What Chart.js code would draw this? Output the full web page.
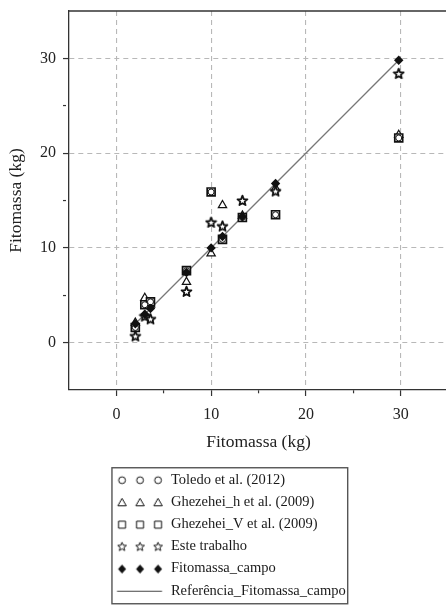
<!DOCTYPE html>
<html>
<head>
<meta charset="utf-8">
<script src="https://cdn.jsdelivr.net/npm/chart.js@4.4.0/dist/chart.umd.min.js"></script>
<style>
  html, body { margin: 0; padding: 0; background: #fff; overflow: hidden; }
</style>
</head>
<body>
<canvas id="chart" width="448" height="608"></canvas>
<script>
// ------------ DATA ------------

// field biomass (kg), shared x for every series
const fieldX = [2.0, 3.0, 3.6, 7.4, 10.0, 11.2, 13.3, 16.8, 29.8];

const toledoY = [1.6, 4.0, 4.3, 7.6, 15.9, 10.9, 13.2, 13.5, 21.6];
const ghezHY  = [2.1, 4.7, 4.0, 6.4, 9.4, 14.5, 13.4, 16.3, 21.9];
const ghezVY  = [1.6, 4.0, 4.3, 7.6, 15.9, 10.9, 13.2, 13.5, 21.6];
const esteY   = [0.7, 2.8, 2.5, 5.4, 12.7, 12.3, 15.0, 16.0, 28.4];
const campoY  = [2.0, 3.0, 3.6, 7.4, 10.0, 11.2, 13.3, 16.8, 29.8];

const refX = [2.0, 29.8];
const refY = [2.0, 29.8];

const labels = [
    'Toledo et al. (2012)',
    'Ghezehei_h et al. (2009)',
    'Ghezehei_V et al. (2009)',
    'Este trabalho',
    'Fitomassa_campo',
    'Referência_Fitomassa_campo'
];

const axisMin = -5;
const axisMax = 35;
const labelledTicks = [0, 10, 20, 30];

// ------------ HELPERS ------------

function pairs(xs, ys) {
    return xs.map(function(x, i) { return { x: x, y: ys[i] }; });
}

function starPath(ctx, cx, cy, ro, ri) {
    ctx.beginPath();
    for (var k = 0; k < 10; k++) {
        var r = (k % 2 === 0) ? ro : ri;
        var a = -Math.PI / 2 + k * Math.PI / 5;
        var px = cx + r * Math.cos(a), py = cy + r * Math.sin(a);
        if (k === 0) ctx.moveTo(px, py); else ctx.lineTo(px, py);
    }
    ctx.closePath();
}

function makeStar() {
    var c = document.createElement('canvas');
    c.width = 13; c.height = 13;
    var g = c.getContext('2d');
    starPath(g, 6.5, 6.9, 5.2, 2.3);
    g.fillStyle = '#fff'; g.fill();
    g.lineWidth = 1.8; g.lineJoin = 'round'; g.strokeStyle = '#111'; g.stroke();
    return c;
}

// legend symbol: three marks (or a line) placed at the right of a wide box
const LEG_W = 156;
const LEG_H = 16;
const legOffsets = [114.3, 132.3, 150.3];

function drawMark(g, kind, x, y) {
    g.lineWidth = 1;
    g.strokeStyle = '#111';
    g.fillStyle = '#fff';
    g.beginPath();
    if (kind === 'circle') {
        g.arc(x, y, 3.4, 0, Math.PI * 2);
        g.fill(); g.stroke();
    } else if (kind === 'triangle') {
        g.moveTo(x, y - 4.1); g.lineTo(x + 4.2, y + 3.3); g.lineTo(x - 4.2, y + 3.3); g.closePath();
        g.fill(); g.stroke();
    } else if (kind === 'rect') {
        g.rect(x - 3.5, y - 3.5, 7, 7);
        g.fill(); g.stroke();
    } else if (kind === 'star') {
        starPath(g, x, y, 4.6, 2.0);
        g.fill(); g.stroke();
    } else if (kind === 'diamond') {
        g.moveTo(x, y - 4.4); g.lineTo(x + 4, y); g.lineTo(x, y + 4.4); g.lineTo(x - 4, y); g.closePath();
        g.fillStyle = '#111'; g.fill();
    }
}

function makeLegendSymbol(kind) {
    var c = document.createElement('canvas');
    c.width = LEG_W; c.height = LEG_H;
    var g = c.getContext('2d');
    if (kind === 'line') {
        g.strokeStyle = '#444'; g.lineWidth = 1.2;
        g.beginPath(); g.moveTo(109.3, 8.5); g.lineTo(154.3, 8.5); g.stroke();
    } else {
        legOffsets.forEach(function(ox) { drawMark(g, kind, ox, 8.5); });
    }
    return c;
}

const starImg = makeStar();
const legendImgs = ['circle', 'triangle', 'rect', 'star', 'diamond', 'line'].map(makeLegendSymbol);

// ------------ FRAME + LEGEND BOX ------------

const framePlugin = {
    id: 'frame',
    afterDraw: function(chart) {
        var ctx = chart.ctx, a = chart.chartArea;
        ctx.save();
        ctx.strokeStyle = '#333';
        ctx.lineWidth = 1.3;
        ctx.beginPath();
        ctx.moveTo(a.left, a.top);
        ctx.lineTo(a.right, a.top);
        ctx.stroke();

        var lg = chart.legend, hb = lg.legendHitBoxes;
        if (hb && hb.length) {
            var half = lg.options.labels.font.size / 2;
            var textStart = hb[0].left + LEG_W + half;
            var widest = 0;
            hb.forEach(function(h) { widest = Math.max(widest, h.width - LEG_W - half); });
            var top = hb[0].top + half - 12;
            var bottom = hb[hb.length - 1].top + half + 13;
            ctx.strokeStyle = '#555';
            ctx.lineWidth = 1.4;
            ctx.strokeRect(textStart - 59, top, widest + 61, bottom - top);
        }
        ctx.restore();
    }
};

// ------------ CHART ------------

const serif = 'Liberation Serif';

function noPadding(s) {
    s.paddingTop = 0; s.paddingBottom = 0;
    s.paddingLeft = 0; s.paddingRight = 0;
}

function axis(titlePadding) {
    return {
        type: 'linear',
        min: axisMin,
        max: axisMax,
        ticks: {
            stepSize: 5,
            autoSkip: false,
            color: '#222',
            font: { family: serif, size: 16 },
            callback: function(v) {
                if (v === axisMin || v === axisMax) return null;
                return labelledTicks.indexOf(v) >= 0 ? String(v) : '';
            }
        },
        grid: {
            color: function(c) { return (c.tick && labelledTicks.indexOf(c.tick.value) >= 0) ? '#b8b8b8' : 'rgba(0,0,0,0)'; },
            lineWidth: 1.1,
            tickColor: '#333',
            tickLength: 6,
            tickWidth: 1.2,
            tickBorderDash: function(c) { return (c.tick && c.tick.value % 10 === 0) ? [] : [3, 30]; }
        },
        border: { display: true, color: '#333', width: 1.3, dash: [5, 4] },
        title: {
            display: true,
            text: 'Fitomassa (kg)',
            color: '#222',
            font: { family: serif, size: 17.5 },
            padding: titlePadding
        }
    };
}

const xAxis = axis({ top: 0, bottom: 12.3 });
xAxis.ticks.padding = 9;
xAxis.afterFit = function(s) { s.height = 74.8; noPadding(s); };

const yAxis = axis({ top: 6, bottom: 0 });
yAxis.ticks.padding = 7;
yAxis.afterFit = function(s) { s.width = 69; noPadding(s); };

const data = {
    datasets: [
        {
            label: labels[0],
            data: pairs(fieldX, toledoY),
            pointStyle: 'circle',
            pointRadius: 3,
            backgroundColor: '#fff',
            borderColor: '#111',
            borderWidth: 1
        },
        {
            label: labels[1],
            data: pairs(fieldX, ghezHY),
            pointStyle: 'triangle',
            pointRadius: 4.8,
            backgroundColor: '#fff',
            borderColor: '#111',
            borderWidth: 1.2,
            order: 2
        },
        {
            label: labels[2],
            data: pairs(fieldX, ghezVY),
            pointStyle: 'rect',
            pointRadius: 5.6,
            backgroundColor: '#fff',
            borderColor: '#111',
            borderWidth: 1.7,
            order: 1
        },
        {
            label: labels[3],
            data: pairs(fieldX, esteY),
            pointStyle: starImg,
            order: 0
        },
        {
            label: labels[4],
            data: pairs(fieldX, campoY),
            pointStyle: 'rectRot',
            pointRadius: 4.7,
            backgroundColor: '#111',
            borderColor: '#111',
            borderWidth: 0,
            order: -1
        },
        {
            type: 'line',
            label: labels[5],
            data: pairs(refX, refY),
            borderColor: '#777',
            borderWidth: 1.3,
            pointRadius: 0,
            fill: false,
            order: 10
        }
    ]
};

const config = {
    type: 'scatter',
    data: data,
    options: {
        responsive: false,
        animation: false,
        layout: { autoPadding: false, padding: { top: 11, left: 0, right: 0, bottom: 0 } },
        scales: { x: xAxis, y: yAxis },
        plugins: {
            tooltip: { enabled: false },
            legend: {
                display: true,
                position: 'bottom',
                align: 'start',
                labels: {
                    usePointStyle: true,
                    pointStyleWidth: LEG_W,
                    padding: 7.7,
                    color: '#1a1a1a',
                    font: { family: serif, size: 14.5 },
                    generateLabels: function(chart) {
                        return chart.data.datasets.map(function(ds, i) {
                            return {
                                text: ds.label,
                                pointStyle: legendImgs[i],
                                fillStyle: '#fff',
                                strokeStyle: '#111',
                                lineWidth: 0,
                                hidden: false,
                                datasetIndex: i,
                                fontColor: '#1a1a1a'
                            };
                        });
                    }
                }
            }
        }
    },
    plugins: [framePlugin]
};

var ctx = document.getElementById('chart').getContext('2d');
const fitChart = new Chart(ctx, config);
</script>
</body>
</html>
